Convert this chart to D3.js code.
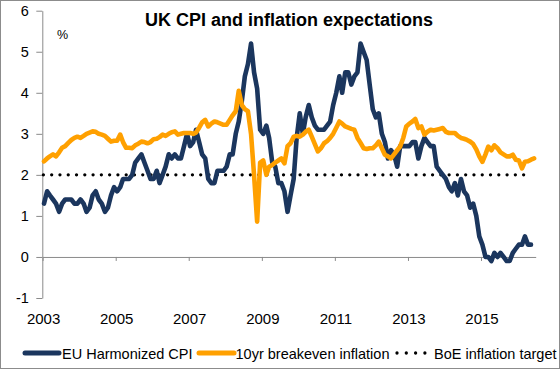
<!DOCTYPE html>
<html><head><meta charset="utf-8">
<script src="https://cdn.jsdelivr.net/npm/d3@7"></script>
<style>
body{margin:0;background:#fff}
svg{display:block;font-family:"Liberation Sans",Arial,sans-serif}
</style>
</head><body>
<svg id="chart" width="560" height="369"></svg>
<script>
// ---- data (monthly, starting Jan 2003) ----
const startYear = 2003;
const cpiValues = [
  1.3,1.6,1.5,1.4,1.3,1.1,1.3,1.4,1.4,1.4,1.3,1.3,   // 2003
  1.4,1.3,1.1,1.2,1.5,1.6,1.4,1.3,1.1,1.2,1.5,1.7,   // 2004
  1.6,1.7,1.9,1.9,1.9,2.0,2.3,2.4,2.5,2.3,2.1,1.9,   // 2005
  1.9,2.1,1.8,2.0,2.2,2.5,2.4,2.5,2.4,2.4,2.7,3.0,   // 2006
  2.7,2.8,3.1,2.8,2.5,2.4,1.9,1.8,1.8,2.1,2.1,2.1,   // 2007
  2.2,2.5,2.5,3.0,3.3,3.8,4.4,4.7,5.2,4.5,4.1,3.1,   // 2008
  3.0,3.2,2.9,2.3,2.2,1.8,1.8,1.6,1.1,1.5,1.9,2.9,   // 2009
  3.5,3.0,3.4,3.7,3.4,3.2,3.1,3.1,3.1,3.2,3.3,3.7,   // 2010
  4.0,4.4,4.0,4.5,4.5,4.2,4.4,4.5,5.2,5.0,4.8,4.2,   // 2011
  3.6,3.4,3.5,3.0,2.8,2.4,2.6,2.5,2.2,2.7,2.7,2.7,   // 2012
  2.7,2.8,2.8,2.4,2.7,2.9,2.8,2.7,2.7,2.2,2.1,2.0,   // 2013
  1.9,1.7,1.6,1.8,1.5,1.9,1.6,1.5,1.2,1.3,1.0,0.5,   // 2014
  0.3,0.0,0.0,-0.1,0.1,0.0,0.1,0.0,-0.1,-0.1,0.1,0.2,// 2015
  0.3,0.3,0.5,0.3,0.3                                // 2016
];
const breakevenValues = [
  2.33,2.4,2.45,2.5,2.45,2.55,2.66,2.7,2.78,2.85,2.9,2.93,     // 2003
  2.9,2.95,3.0,3.03,3.06,3.05,3.0,2.98,2.95,2.88,2.81,2.83,    // 2004
  2.83,2.98,2.8,2.66,2.66,2.65,2.72,2.76,2.81,2.8,2.77,2.8,    // 2005
  2.87,2.88,2.92,2.98,2.95,3.0,3.04,3.06,2.98,3.0,3.02,3.02,   // 2006
  3.02,3.0,3.03,3.15,3.28,3.34,3.18,3.25,3.3,3.28,3.25,3.22,   // 2007
  3.22,3.34,3.45,3.55,4.05,3.7,3.6,3.55,3.0,2.0,0.86,2.3,      // 2008
  2.35,2.0,2.2,2.24,2.3,2.35,2.4,2.28,2.7,2.77,2.93,2.95,      // 2009
  2.93,2.98,3.05,3.1,2.93,2.75,2.57,2.65,2.77,2.82,2.9,3.0,    // 2010
  3.15,3.3,3.25,3.18,3.15,3.12,3.1,2.9,2.78,2.65,2.63,2.65,    // 2011
  2.65,2.72,2.81,2.65,2.49,2.45,2.4,2.5,2.6,2.69,2.9,3.18,     // 2012
  3.25,3.3,3.36,3.14,3.18,2.98,3.05,3.1,3.08,3.1,3.12,3.14,    // 2013
  3.05,3.02,3.02,3.02,2.95,2.9,2.88,2.85,2.81,2.75,2.62,2.45,  // 2014
  2.32,2.5,2.69,2.6,2.72,2.65,2.55,2.5,2.45,2.45,2.49,2.37,    // 2015
  2.35,2.16,2.32,2.33,2.37,2.4                                 // 2016
];
const targetValue = 2;
const yTickValues = [-1,0,1,2,3,4,5,6];
const xTickLabels = ["2003","2005","2007","2009","2011","2013","2015"];
const seriesNames = ["EU Harmonized CPI","10yr breakeven inflation","BoE inflation target"];
const titleText = "UK CPI and inflation expectations";
const unitText = "%";

// ---- build ----
const colors = {cpi:"#1b365e", be:"#ffa000", axis:"#8a8a8a"};
const monthDate = i => new Date(startYear, i, 15);
const cpiData = cpiValues.map((v,i)=>({date:monthDate(i), v}));
const beData = breakevenValues.map((v,i)=>({date:monthDate(i), v}));

const svg = d3.select("#chart");
const x = d3.scaleTime()
  .domain([new Date(2003,0,1), new Date(2016,6,1)])
  .range([42.6, 535.7]);
const y = d3.scaleLinear().domain([-1,6]).range([298, 10.7]);

// outer frame
svg.append("rect").attr("x",0.5).attr("y",0.5).attr("width",559).attr("height",368)
  .attr("fill","#fff").attr("stroke","#8c8c8c").attr("stroke-width",1);

// title
svg.append("text").attr("x",289).attr("y",25.5).attr("text-anchor","middle")
  .attr("font-size","18px").attr("font-weight","bold").attr("fill","#000").text(titleText);
svg.append("text").attr("x",57).attr("y",39).attr("font-size","12.5px").attr("fill","#000").text(unitText);

// y axis
const yAxis = d3.axisLeft(y).tickValues(yTickValues).tickSize(6).tickSizeOuter(0).tickPadding(7.5)
  .tickFormat(d=>d<0?"-"+Math.abs(d):String(d));
const gy = svg.append("g").attr("transform","translate(42.3,0)").call(yAxis);
gy.select(".domain").attr("stroke",colors.axis);
gy.selectAll(".tick line").attr("stroke",colors.axis);
gy.selectAll(".tick text").attr("font-size","14.5px").attr("fill","#000")
  .attr("font-family","'Liberation Sans',Arial,sans-serif");

// x axis (at y=0)
const xTickDates = xTickLabels.map(s=>new Date(+s,0,1));
const xAxis = d3.axisBottom(x).tickValues(xTickDates).tickSize(4).tickSizeOuter(0).tickFormat("");
const gx = svg.append("g").attr("transform",`translate(0,${y(0)})`).call(xAxis);
gx.select(".domain").attr("stroke",colors.axis);
gx.selectAll(".tick line").attr("stroke",colors.axis);

// x labels
svg.append("g").selectAll("text").data(xTickLabels).join("text")
  .attr("x",d=>x(new Date(+d,0,1))+1).attr("y",324)
  .attr("text-anchor","middle").attr("font-size","15px").attr("fill","#000").text(d=>d);

// target line (dotted)
svg.append("line")
  .attr("x1",x(cpiData[0].date)-0.6).attr("x2",x(cpiData[cpiData.length-1].date))
  .attr("y1",y(targetValue)).attr("y2",y(targetValue))
  .attr("stroke","#000").attr("stroke-width",3.3).attr("stroke-linecap","round")
  .attr("stroke-dasharray","0 8.28");

const line = d3.line().x(d=>x(d.date)).y(d=>y(d.v));
svg.append("path").datum(cpiData).attr("d",line).attr("fill","none")
  .attr("stroke",colors.cpi).attr("stroke-width",4.6).attr("stroke-linejoin","round").attr("stroke-linecap","round");
svg.append("path").datum(beData).attr("d",line).attr("fill","none")
  .attr("stroke",colors.be).attr("stroke-width",4.6).attr("stroke-linejoin","round").attr("stroke-linecap","round");

// legend
const lg = svg.append("g").attr("font-size","14.5px").attr("fill","#000");
const ly = 353, ty = 358.5;
lg.append("line").attr("x1",25).attr("x2",59).attr("y1",ly).attr("y2",ly)
  .attr("stroke",colors.cpi).attr("stroke-width",5).attr("stroke-linecap","round");
lg.append("text").attr("x",62).attr("y",ty).text(seriesNames[0]);
lg.append("line").attr("x1",199).attr("x2",234).attr("y1",ly).attr("y2",ly)
  .attr("stroke",colors.be).attr("stroke-width",5).attr("stroke-linecap","round");
lg.append("text").attr("x",235.5).attr("y",ty).text(seriesNames[1]);
lg.append("line").attr("x1",397).attr("x2",425).attr("y1",ly).attr("y2",ly)
  .attr("stroke","#000").attr("stroke-width",3.3).attr("stroke-linecap","round")
  .attr("stroke-dasharray","0 9.3");
lg.append("text").attr("x",434).attr("y",ty).text(seriesNames[2]);
</script>
</body></html>
